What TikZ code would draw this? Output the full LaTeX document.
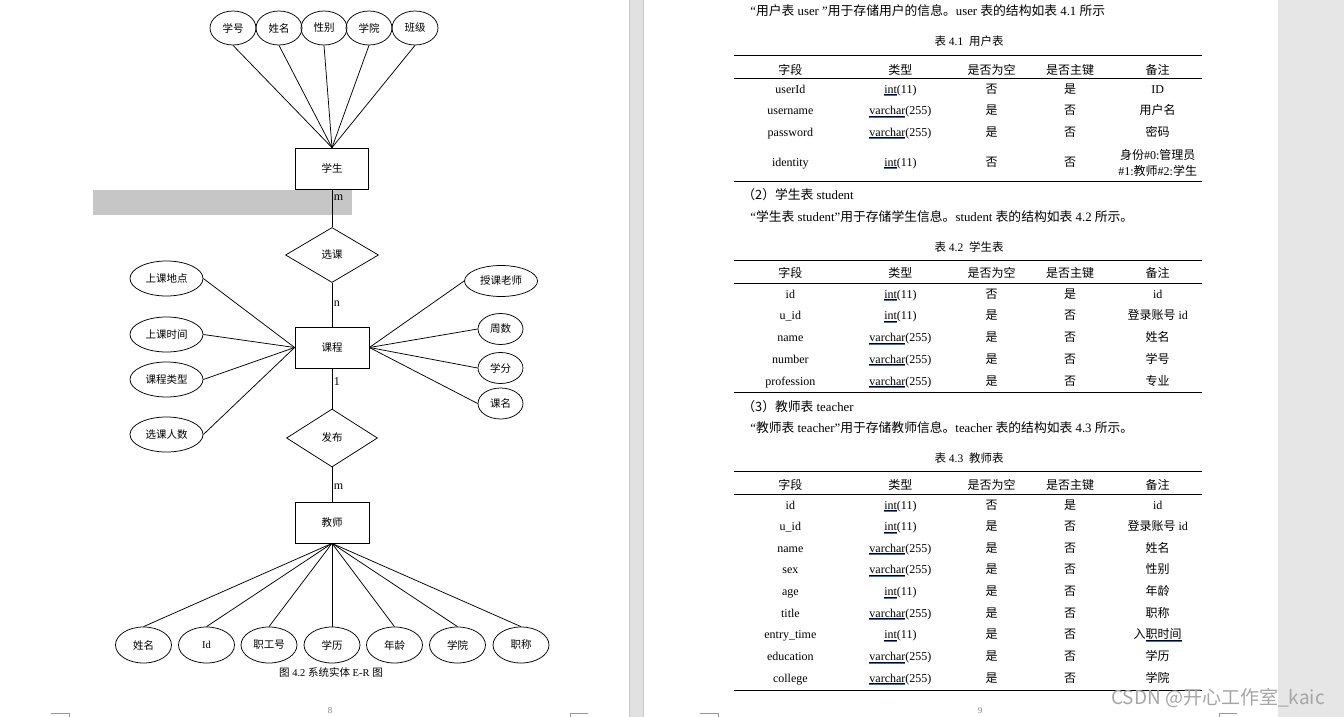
\documentclass[tikz,border=0pt]{standalone}
\usepackage{fontspec}
\setmainfont{Liberation Serif}
\newfontfamily\zh{Noto Sans CJK SC}
\usetikzlibrary{shapes.geometric}

\definecolor{gutter}{HTML}{E1E1E1}
\definecolor{gutterline}{HTML}{C8C8C8}
\definecolor{sidegray}{HTML}{E6E6E6}
\definecolor{hilite}{HTML}{C6C6C6}
\definecolor{spellblue}{HTML}{2F6FD8}

\newcommand\cn[1]{{\zh #1}}
\newsavebox\sqbox
\newcommand\squig[1]{\sbox\sqbox{#1}\rlap{\rule[-1.4pt]{\wd\sqbox}{0.4pt}}\rlap{\color{spellblue}\rule[-2.8pt]{\wd\sqbox}{0.8pt}}\usebox\sqbox}
\newcommand\tint{\squig{int}(11)}
\newcommand\tvar{\squig{varchar}(255)}

\tikzset{
  ent/.style={draw, rectangle, minimum width=73pt, minimum height=41pt, inner sep=0pt, font=\zh\fontsize{10.5}{12}\selectfont},
  rel/.style={draw, diamond, inner sep=0pt, minimum width=93pt, minimum height=55pt, font=\zh\fontsize{10.5}{12}\selectfont},
  attr/.style={draw, ellipse, inner sep=0pt, font=\zh\fontsize{10.5}{12}\selectfont},
  card/.style={inner sep=1.5pt, font=\fontsize{12}{14}\selectfont},
  figcap/.style={anchor=base, inner sep=0pt, font=\fontsize{11.5}{13}\selectfont},
  cell/.style={anchor=base, inner sep=0pt, font=\fontsize{12}{14}\selectfont},
  para/.style={anchor=base west, inner sep=0pt, font=\fontsize{12.8}{14}\selectfont},
  tabrule/.style={line width=1pt},
  cropmark/.style={draw=black!40, line width=0.8pt},
  pagenum/.style={text=black!50, inner sep=0pt, font=\fontsize{9}{10}\selectfont}
}

\begin{document}
\begin{tikzpicture}[x=1pt, y=-1pt, line width=0.75pt]
    \clip (0,0) rectangle (1344,717);
    % Pages
    \fill[white] (0,0) rectangle (1344,717);
    \fill[gutter] (629,0) rectangle (643,717);
    \draw[gutterline] (629,0) -- (629,717) (643,0) -- (643,717);
    \fill[sidegray] (1278,0) rectangle (1344,717);
    \fill[hilite] (93,190) rectangle (352,215);

    % Nodes
    \node (S) [ent] at (332,168.5) {学生};
    \node (XK) [rel] at (332,255) {选课};
    \node (C) [ent, minimum width=74pt] at (332,347.5) {课程};
    \node (FB) [rel, minimum width=91pt, minimum height=58pt] at (332,438) {发布};
    \node (T) [ent, minimum width=74pt] at (332,522.5) {教师};
    \foreach \t/\x [count=\i] in {学号/233, 姓名/279, 性别/324, 学院/369, 班级/415}
        \node (sa\i) [attr, minimum width=46pt, minimum height=34pt] at (\x,28) {\t};
    \foreach \t/\y [count=\i] in {上课地点/278.5, 上课时间/334.5, 课程类型/379.5, 选课人数/434.5}
        \node (cl\i) [attr, minimum width=73pt, minimum height=35pt] at (166.5,\y) {\t};
    \node (cr1) [attr, minimum width=73pt, minimum height=31pt] at (501,281) {授课老师};
    \foreach \t/\y [count=\i from 2] in {周数/329, 学分/368, 课名/403.5}
        \node (cr\i) [attr, minimum width=45pt, minimum height=31pt] at (500.5,\y) {\t};
    \foreach \t/\x [count=\i] in {姓名/143.5, {\rmfamily Id}/206.5, 职工号/269, 学历/332, 年龄/394.5, 学院/457.5, 职称/521}
        \node (ta\i) [attr, minimum width=56pt, minimum height=36pt] at (\x,645) {\t};
    \node (fig42) [figcap, font=\fontsize{10.5}{12}\selectfont] at (331,676) {\cn{图} 4.2 \cn{系统实体} E-R \cn{图}};

    % Edges
    \foreach \i in {1,...,5} \draw (sa\i.south) -- (S.north);
    \foreach \i in {1,...,4} \draw (cl\i.east) -- (C.west);
    \foreach \i in {1,...,4} \draw (cr\i.west) -- (C.east);
    \foreach \i in {1,...,7} \draw (T.south) -- (ta\i.north);
    \draw (S) -- node (c1) [card, pos=.22, right] {m} (XK);
    \draw (XK) -- node (c2) [card, pos=.47, right] {n} (C);
    \draw (C) -- node (c3) [card, pos=.32, right] {1} (FB);
    \draw (FB) -- node (c4) [card, pos=.57, right] {m} (T);

    % Right page: text
    \node (p1) [para] at (750,16) {“\cn{用户表} user ”\cn{用于存储用户的信息。}user \cn{表的结构如表} 4.1 \cn{所示}};
    \node (p2) [para] at (742,199.5) {\cn{（2）学生表} student};
    \node (p3) [para] at (750,221.5) {“\cn{学生表} student”\cn{用于存储学生信息。}student \cn{表的结构如表} 4.2 \cn{所示。}};
    \node (p4) [para] at (742,411) {\cn{（3）教师表} teacher};
    \node (p5) [para] at (750,432.5) {“\cn{教师表} teacher”\cn{用于存储教师信息。}teacher \cn{表的结构如表} 4.3 \cn{所示。}};
    \node (tc1) [figcap] at (969,46) {\cn{表} 4.1\ \ \cn{用户表}};
    \node (tc2) [figcap] at (969,251) {\cn{表} 4.2\ \ \cn{学生表}};
    \node (tc3) [figcap] at (969,462) {\cn{表} 4.3\ \ \cn{教师表}};

    % Right page: tables
    \foreach \y in {55.7, 78.7, 181.7, 260.7, 283.3, 392.7, 471.7, 494.3, 690}
        \draw[tabrule] (734,\y) -- (1202,\y);
    \foreach \h/\x [count=\j] in {字段/790.4, 类型/900.4, 是否为空/991.6, 是否主键/1070, 备注/1157.7}{
        \node (ha\j) [cell] at (\x,74.5) {\cn{\h}};
        \node (hb\j) [cell] at (\x,277.5) {\cn{\h}};
        \node (hc\j) [cell] at (\x,489.5) {\cn{\h}};
    }
    \foreach \f/\t/\e/\k/\r [count=\i from 0] in {
        userId/\tint/否/是/ID,
        username/\tvar/是/否/\cn{用户名},
        password/\tvar/是/否/\cn{密码}}{
        \node (ua\i) [cell] at (790.4,93+21.5*\i) {\f};
        \node (ub\i) [cell] at (900.4,93+21.5*\i) {\t};
        \node (uc\i) [cell] at (991.6,93+21.5*\i) {\cn{\e}};
        \node (ud\i) [cell] at (1070,93+21.5*\i) {\cn{\k}};
        \node (ue\i) [cell] at (1157.7,93+21.5*\i) {\r};
    }
    \node (ua3) [cell] at (790.4,166) {identity};
    \node (ub3) [cell] at (900.4,166) {\tint};
    \node (uc3) [cell] at (991.6,166) {\cn{否}};
    \node (ud3) [cell] at (1070,166) {\cn{否}};
    \node (ue3) [cell, anchor=center, align=center, font=\fontsize{12}{16}\selectfont] at (1157.7,163) {\cn{身份}\#0:\cn{管理员}\\\#1:\cn{教师}\#2:\cn{学生}};
    \foreach \f/\t/\e/\k/\r [count=\i from 0] in {
        id/\tint/否/是/id,
        u\_id/\tint/是/否/\cn{登录账号} id,
        name/\tvar/是/否/\cn{姓名},
        number/\tvar/是/否/\cn{学号},
        profession/\tvar/是/否/\cn{专业}}{
        \node (sa\i) [cell] at (790.4,298+21.75*\i) {\f};
        \node (sb\i) [cell] at (900.4,298+21.75*\i) {\t};
        \node (sc\i) [cell] at (991.6,298+21.75*\i) {\cn{\e}};
        \node (sd\i) [cell] at (1070,298+21.75*\i) {\cn{\k}};
        \node (se\i) [cell] at (1157.7,298+21.75*\i) {\r};
    }
    \foreach \f/\t/\e/\k/\r [count=\i from 0] in {
        id/\tint/否/是/id,
        u\_id/\tint/是/否/\cn{登录账号} id,
        name/\tvar/是/否/\cn{姓名},
        sex/\tvar/是/否/\cn{性别},
        age/\tint/是/否/\cn{年龄},
        title/\tvar/是/否/\cn{职称},
        entry\_time/\tint/是/否/\cn{入\squig{职时间}},
        education/\tvar/是/否/\cn{学历},
        college/\tvar/是/否/\cn{学院}}{
        \node (ra\i) [cell] at (790.4,509+21.65*\i) {\f};
        \node (rb\i) [cell] at (900.4,509+21.65*\i) {\t};
        \node (rc\i) [cell] at (991.6,509+21.65*\i) {\cn{\e}};
        \node (rd\i) [cell] at (1070,509+21.65*\i) {\cn{\k}};
        \node (re\i) [cell] at (1157.7,509+21.65*\i) {\r};
    }

    % Page furniture
    \node (wm) [anchor=west, inner sep=0pt, text=black!35, font=\zh\fontsize{19}{20}\selectfont] at (1111,698) {CSDN @开心工作室\_kaic};
    \node (pn8) [pagenum] at (330,711) {8};
    \node (pn9) [pagenum] at (980,711) {9};
    \draw[cropmark] (51,713) -- (69,713) -- (69,718);
    \draw[cropmark] (570,718) -- (570,713) -- (588,713);
    \draw[cropmark] (700,713) -- (718,713) -- (718,718);
    \draw[cropmark] (1219,718) -- (1219,713) -- (1237,713);
\end{tikzpicture}
\end{document}
